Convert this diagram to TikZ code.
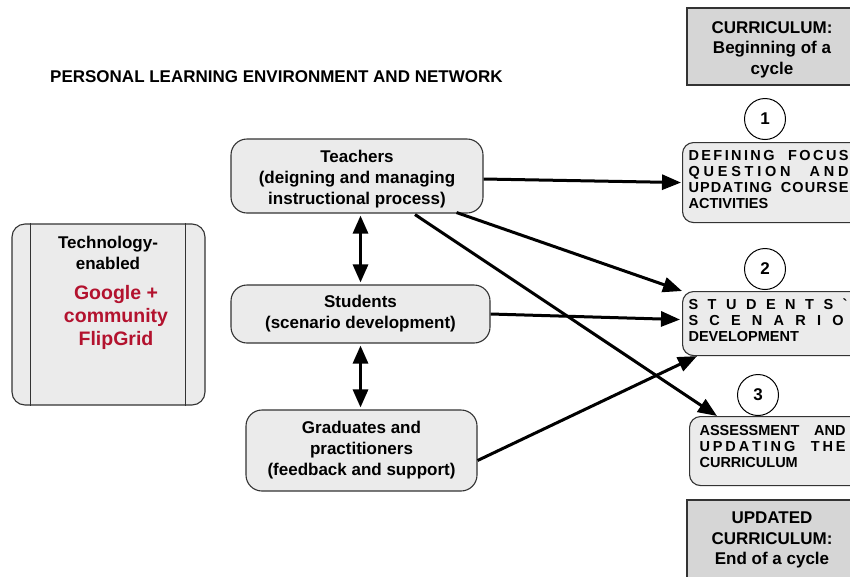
\documentclass[tikz,border=0pt]{standalone}
\usepackage{fontspec}
\setmainfont{Liberation Sans}
\usetikzlibrary{arrows.meta,calc}
\definecolor{boxfill}{HTML}{EBEBEB}
\definecolor{curfill}{HTML}{D6D6D6}
\definecolor{edgecol}{HTML}{333333}
\definecolor{redtxt}{HTML}{B3122E}
\def\lspX#1{\ifx\relax#1\else#1\hfil\expandafter\lspX\fi}
\newcommand\lsp[1]{\lspX#1\relax}
\newcommand\spline[2]{\makebox[#1][s]{#2\unskip}}
\newcommand\wgap{\hspace{4pt}\hfil\hfil\hfil}
\tikzset{
  mainbox/.style={draw=edgecol, line width=1.1pt, fill=boxfill, rounded corners=16pt,
    align=center, font=\bfseries\fontsize{17}{21}\selectfont, inner sep=0pt},
  stepbox/.style={draw=edgecol, line width=1.1pt, fill=boxfill, rounded corners=11pt,
    anchor=north west, align=left, font=\bfseries\fontsize{14.5}{16}\selectfont,
    inner xsep=5pt, inner ysep=0pt},
  curbox/.style={draw=edgecol, line width=1.1pt, fill=curfill, align=center,
    font=\bfseries\fontsize{17}{20.5}\selectfont, minimum width=170pt},
  numc/.style={draw=black, line width=1pt, fill=white, circle, minimum size=41pt,
    inner sep=0pt, font=\bfseries\fontsize{17}{20}\selectfont},
  arr/.style={line width=3pt, -{Triangle[length=19pt,width=15pt]}},
  dbl/.style={line width=3pt, {Triangle[length=18pt,width=15pt]}-{Triangle[length=18pt,width=15pt]}}
}
\begin{document}
\begin{tikzpicture}[x=1pt, y=-1pt]
\useasboundingbox (0,0) rectangle (850,576);
\clip (0,0) rectangle (850,576);
\fill[white] (0,0) rectangle (850,576);

% title
\node[anchor=west, inner sep=0pt, font=\bfseries\fontsize{17}{20}\selectfont] (title) at (50,77) {PERSONAL LEARNING ENVIRONMENT AND NETWORK};

% curriculum boxes
\node[curbox, minimum height=77pt] (cur1) at (772,46.5) {\rule{0pt}{18.2pt}CURRICULUM:\\Beginning of a\\cycle};
\node[curbox, minimum height=80pt] (cur2) at (772,540) {UPDATED\\CURRICULUM:\\End of a cycle};

% number circles
\node[numc] (n1) at (765,119) {1};
\node[numc] (n2) at (765,269) {2};
\node[numc] (n3) at (758,395) {3};

% step boxes
\node[stepbox, minimum width=180pt, minimum height=80pt, text width=168pt] (b1) at (682,142)
 {\spline{160pt}{\lsp{DEFINING}\wgap\lsp{FOCUS}}\\
  \spline{160pt}{\lsp{QUESTION}\wgap\lsp{AND}}\\
  \spline{160pt}{\lsp{UPDATING}\wgap\lsp{COURSE}}\\
  ACTIVITIES\rule[-7pt]{0pt}{0pt}};
\node[stepbox, minimum width=180pt, minimum height=64pt, text width=168pt] (b2) at (682,291)
 {\spline{159pt}{\lsp{STUDENTS}\textasciigrave}\\
  \spline{155pt}{\lsp{SCENARIO}}\\
  DEVELOPMENT\rule[-6pt]{0pt}{0pt}};
\node[stepbox, inner xsep=7pt, minimum width=175pt, minimum height=69pt, text width=155pt] (b3) at (689,416)
 {\makebox[146pt][s]{ASSESSMENT\hfil AND}\\
  \spline{146pt}{\lsp{UPDATING}\wgap\lsp{THE}}\\
  CURRICULUM\rule[-9pt]{0pt}{0pt}};

% technology box
\node[draw=edgecol, line width=1.1pt, fill=boxfill, rounded corners=13pt,
  minimum width=193pt, minimum height=181pt] (tech) at (108.5,314.5) {};
\draw[edgecol, line width=1.1pt] ($(tech.north west)+(19,0)$) -- ($(tech.south west)+(19,0)$);
\draw[edgecol, line width=1.1pt] ($(tech.north east)+(-20,0)$) -- ($(tech.south east)+(-20,0)$);
\node[align=center, inner sep=0pt, font=\bfseries\fontsize{17}{21}\selectfont] (techt) at (108,252.5) {Technology-\\enabled};
\node[align=center, inner sep=0pt, text=redtxt, font=\bfseries\fontsize{19.5}{23}\selectfont] (techr) at (116,317) {Google +\\community\\FlipGrid};

% main actor boxes
\node[mainbox, minimum width=252pt, minimum height=74pt] (teach) at (357,176)
 {\rule{0pt}{19.5pt}Teachers\\(deigning and managing\\instructional process)};
\node[mainbox, minimum width=259pt, minimum height=58pt] (stud) at (360.5,314)
 {Students\\(scenario development)};
\node[mainbox, minimum width=231pt, minimum height=81pt] (grad) at (361.5,450.5)
 {Graduates and\\practitioners\\(feedback and support)};

% connectors
\draw[dbl] ($(stud.north |- teach.south)+(0,2)$) -- ($(stud.north)+(0,-2)$);
\draw[dbl] ($(stud.south)+(0,2)$) -- ($(grad.north -| stud.south)+(0,-2)$);
\draw[arr] ($(teach.east)+(0,3)$) -- ($(b1.west)+(-1,0)$);
\draw[arr] ($(teach.south east)+(-27,-1)$) -- (b2.north west);
\draw[arr] ($(teach.south)+(58,1)$) -- ($(b3.north west)+(28,0)$);
\draw[arr] (stud.east) -- ($(b2.west)+(-2,-4)$);
\draw[arr] ($(grad.east)+(0,10)$) -- ($(b2.south west)+(15,0)$);
\end{tikzpicture}
\end{document}
